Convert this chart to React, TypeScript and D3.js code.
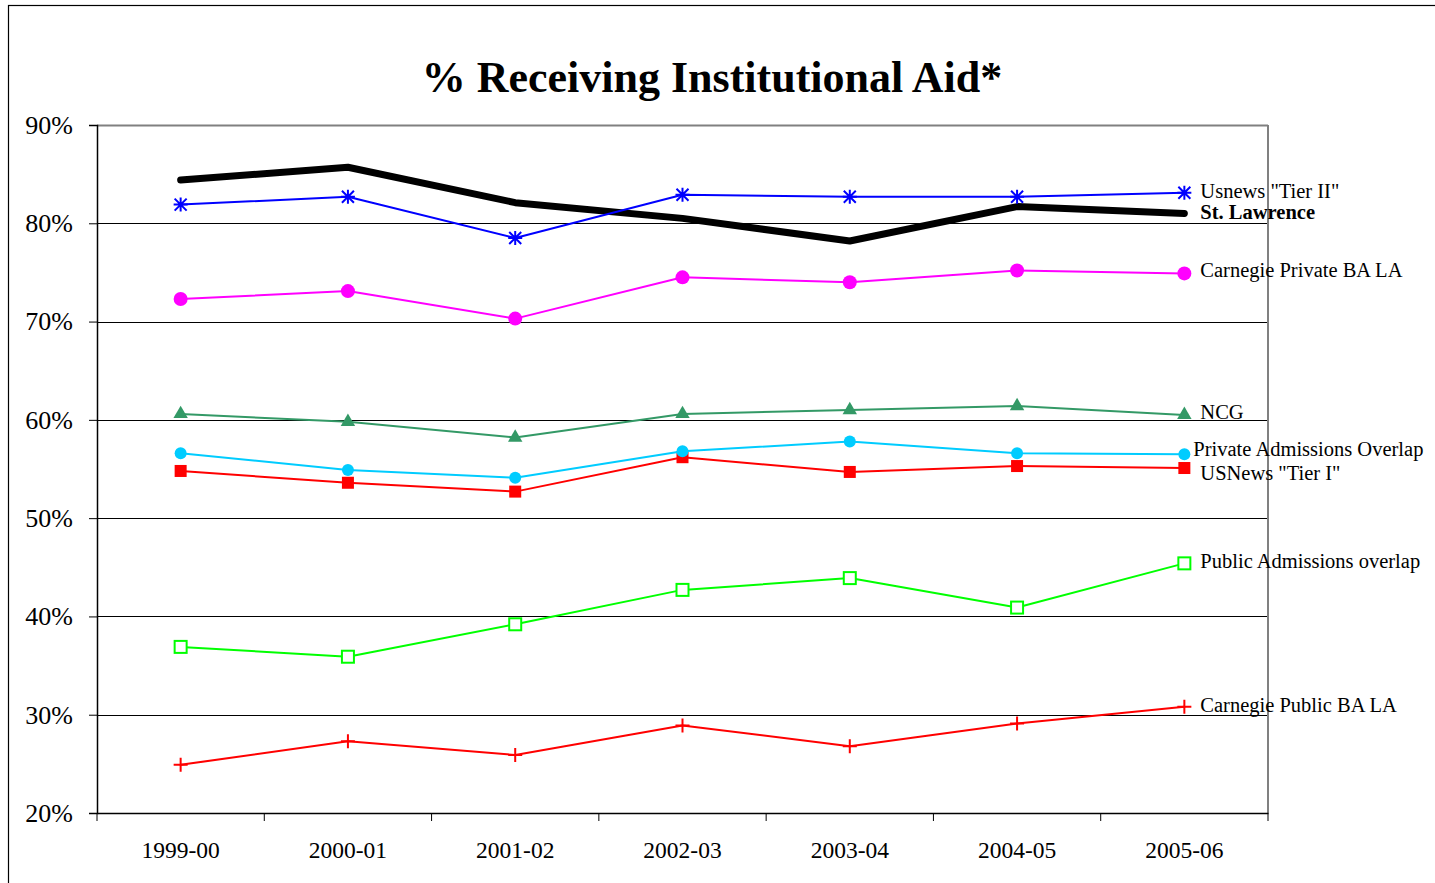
import * as d3 from "d3";
import { useEffect, useRef } from "react";

const categories = ["1999-00", "2000-01", "2001-02", "2002-03", "2003-04", "2004-05", "2005-06"];
const yTicks = [20, 30, 40, 50, 60, 70, 80, 90];

const stLawrence = [84.4, 85.7, 82.1, 80.5, 78.2, 81.7, 81.0];
const tierTwo = [81.9, 82.7, 78.5, 82.9, 82.7, 82.7, 83.1];
const carnegiePrivate = [72.3, 73.1, 70.3, 74.5, 74.0, 75.2, 74.9];
const ncg = [60.6, 59.8, 58.2, 60.6, 61.0, 61.4, 60.5];
const privateOverlap = [56.6, 54.9, 54.1, 56.8, 57.8, 56.6, 56.5];
const tierOne = [54.8, 53.6, 52.7, 56.2, 54.7, 55.3, 55.1];
const publicOverlap = [36.9, 35.9, 39.2, 42.7, 43.9, 40.9, 45.4];
const carnegiePublic = [24.9, 27.3, 25.9, 28.9, 26.8, 29.1, 30.8];

const seriesList = [
  { name: "Carnegie Public BA LA", values: carnegiePublic, color: "#ff0000", marker: "plus", labelDy: 0, labelDx: 16, bold: false },
  { name: "Public Admissions overlap", values: publicOverlap, color: "#00ff00", marker: "hollowSquare", labelDy: 0, labelDx: 16, bold: false },
  { name: "USNews \"Tier I\"", values: tierOne, color: "#ff0000", marker: "square", labelDy: 7, labelDx: 16, bold: false },
  { name: "Private Admissions Overlap", values: privateOverlap, color: "#00ccff", marker: "circleSmall", labelDy: -3, labelDx: 9, bold: false },
  { name: "NCG", values: ncg, color: "#339966", marker: "triangle", labelDy: -1, labelDx: 16, bold: false },
  { name: "Carnegie Private BA LA", values: carnegiePrivate, color: "#ff00ff", marker: "circle", labelDy: -1, labelDx: 16, bold: false },
  { name: "St. Lawrence", values: stLawrence, color: "#000000", marker: "none", labelDy: 1, labelDx: 16, bold: true },
  { name: "Usnews \"Tier II\"", values: tierTwo, color: "#0000ff", marker: "star", labelDy: 0, labelDx: 16, bold: false },
];

const App = () => {
  const ref = useRef(null);

  useEffect(() => {
    const W = 1435, H = 883;
    const margin = { top: 125, right: 167, bottom: 70, left: 97 };
    const width = W - margin.left - margin.right;
    const height = H - margin.top - margin.bottom;
    const font = "Liberation Serif";

    const svg = d3.select(ref.current);
    svg.selectAll("*").remove();

    // outer frame
    svg.append("rect")
      .attr("x", 8.5).attr("y", 5.5)
      .attr("width", 1440).attr("height", 900)
      .attr("fill", "white").attr("stroke", "#000").attr("stroke-width", 1.2);

    svg.append("text")
      .attr("x", 712).attr("y", 92)
      .attr("text-anchor", "middle")
      .attr("font-family", font)
      .attr("font-weight", "bold")
      .attr("font-size", 44)
      .text("% Receiving Institutional Aid*");

    const g = svg.append("g").attr("transform", `translate(${margin.left},${margin.top})`);

    const x = d3.scaleBand().domain(categories).range([0, width]);
    const y = d3.scaleLinear().domain([20, 90]).range([height, 0]);
    const cx = (i) => x(categories[i]) + x.bandwidth() / 2;

    // grid
    g.selectAll("line.grid").data(yTicks.slice(1, -1)).enter()
      .append("line")
      .attr("x1", 0).attr("x2", width)
      .attr("y1", d => Math.round(y(d)) + 0.5).attr("y2", d => Math.round(y(d)) + 0.5)
      .attr("stroke", "#000").attr("stroke-width", 1);

    // plot border top/right
    g.append("line").attr("x1", 0).attr("x2", width).attr("y1", 0.5).attr("y2", 0.5)
      .attr("stroke", "#808080").attr("stroke-width", 2);
    g.append("line").attr("x1", width).attr("x2", width).attr("y1", 0).attr("y2", height)
      .attr("stroke", "#808080").attr("stroke-width", 2);

    // y axis
    const yAxis = g.append("g")
      .attr("font-family", font)
      .call(d3.axisLeft(y).tickValues(yTicks).tickSize(8).tickFormat(d => d + "%").tickPadding(16));
    yAxis.attr("font-family", font).attr("font-size", 26);
    yAxis.select(".domain").attr("stroke", "#000").attr("stroke-width", 1.5);
    yAxis.selectAll("text").attr("font-family", font).attr("font-size", 26).attr("fill", "#000");

    // x axis
    const xAxis = g.append("g").attr("transform", `translate(0,${height})`)
      .call(d3.axisBottom(x).tickSize(0).tickPadding(28));
    xAxis.attr("font-family", font).attr("font-size", 23.5);
    xAxis.select(".domain").attr("stroke", "#000").attr("stroke-width", 1.5);
    xAxis.selectAll("text").attr("fill", "#000");
    xAxis.selectAll("line.sep").data(d3.range(categories.length + 1)).enter()
      .append("line")
      .attr("x1", d => d * x.bandwidth()).attr("x2", d => d * x.bandwidth())
      .attr("y1", 0).attr("y2", 8)
      .attr("stroke", "#000").attr("stroke-width", 1);

    const line = d3.line().x((d, i) => cx(i)).y(d => y(d));

    seriesList.forEach(s => {
      const sg = g.append("g");
      sg.append("path")
        .attr("d", line(s.values))
        .attr("fill", "none")
        .attr("stroke", s.color)
        .attr("stroke-width", s.name === "St. Lawrence" ? 7 : 2)
        .attr("stroke-linecap", "round")
        .attr("stroke-linejoin", "round");

      s.values.forEach((v, i) => {
        const px = cx(i), py = y(v);
        if (s.marker === "circle") {
          sg.append("circle").attr("cx", px).attr("cy", py).attr("r", 7).attr("fill", s.color);
        } else if (s.marker === "circleSmall") {
          sg.append("circle").attr("cx", px).attr("cy", py).attr("r", 6).attr("fill", s.color);
        } else if (s.marker === "square") {
          sg.append("rect").attr("x", px - 6).attr("y", py - 6).attr("width", 12).attr("height", 12).attr("fill", s.color);
        } else if (s.marker === "hollowSquare") {
          sg.append("rect").attr("x", px - 6).attr("y", py - 6).attr("width", 12).attr("height", 12)
            .attr("fill", "white").attr("stroke", s.color).attr("stroke-width", 2);
        } else if (s.marker === "triangle") {
          sg.append("path").attr("d", d3.symbol(d3.symbolTriangle, 90)()).attr("transform", `translate(${px},${py})`).attr("fill", s.color);
        } else if (s.marker === "plus") {
          sg.append("path").attr("d", `M${px - 7},${py}H${px + 7}M${px},${py - 7}V${py + 7}`)
            .attr("stroke", s.color).attr("stroke-width", 2);
        } else if (s.marker === "star") {
          sg.append("path").attr("d", `M${px - 7},${py}H${px + 7}M${px},${py - 7}V${py + 7}M${px - 6},${py - 6}L${px + 6},${py + 6}M${px - 6},${py + 6}L${px + 6},${py - 6}`)
            .attr("stroke", s.color).attr("stroke-width", 2);
        }
      });

      const last = s.values.length - 1;
      sg.append("text")
        .attr("x", cx(last) + s.labelDx)
        .attr("y", y(s.values[last]) + s.labelDy)
        .attr("dominant-baseline", "middle")
        .attr("font-family", font)
        .attr("font-size", 20.5)
        .attr("font-weight", s.bold ? "bold" : "normal")
        .text(s.name);
    });
  }, []);

  return (
    <svg ref={ref} width={1435} height={883}
      style={{ position: "absolute", left: 0, top: 0, background: "white" }} />
  );
};

export default App;
